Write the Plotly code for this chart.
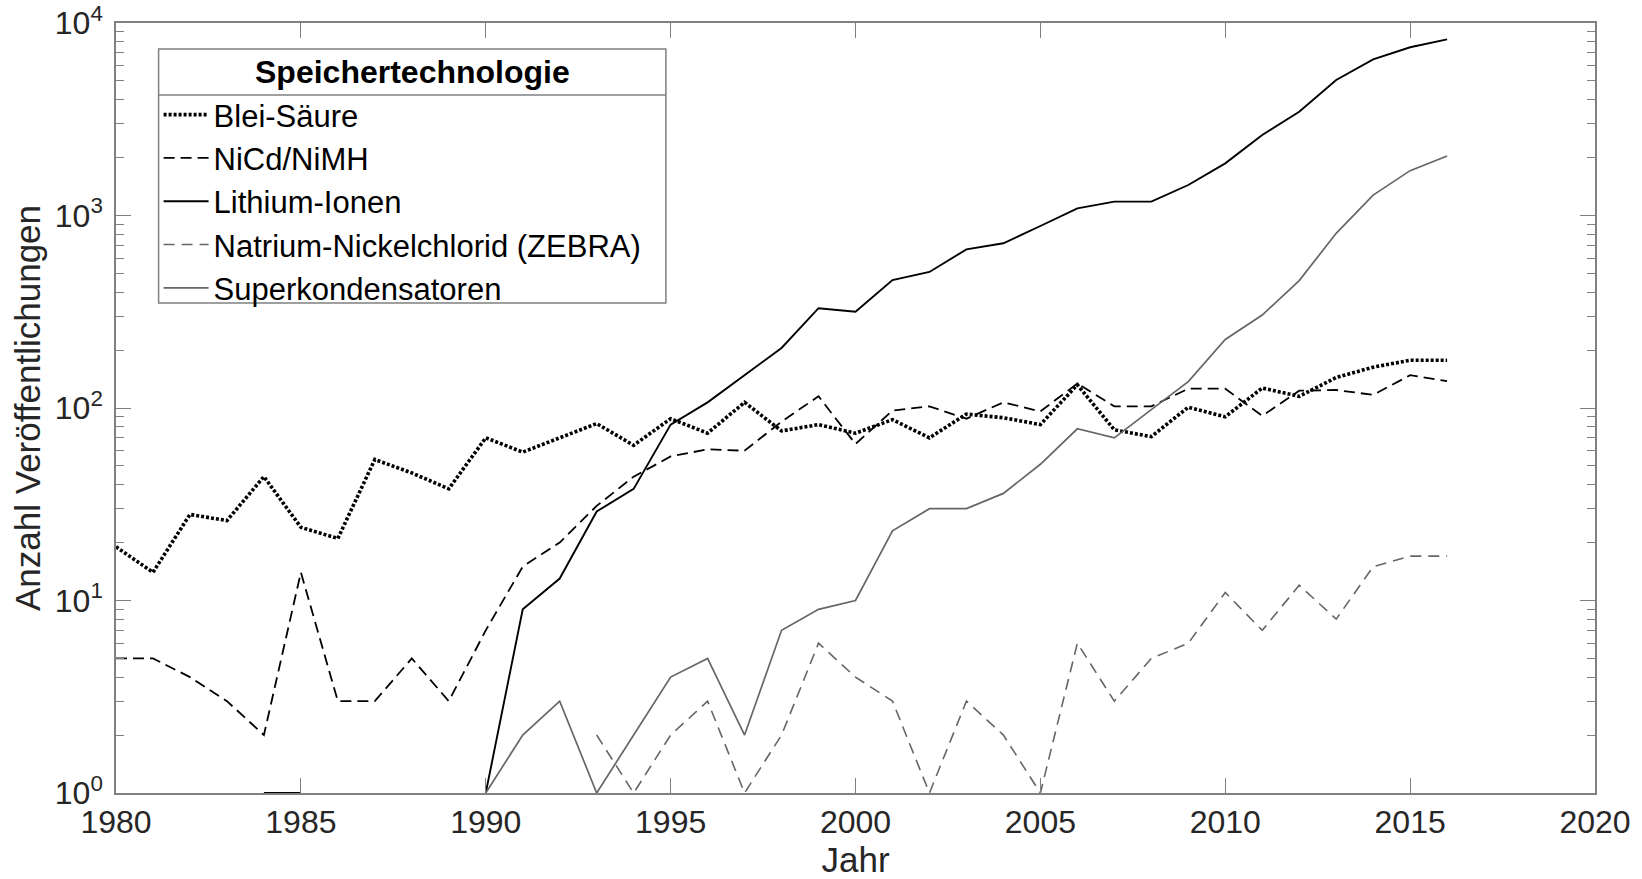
import plotly.graph_objects as go

years = list(range(1980, 2017))

blei_saeure = [19, 14, 28, 26, 44, 24, 21, 54, 46, 38,
               70, 59, 70, 83, 64, 88, 74, 107, 76, 82,
               74, 87, 70, 93, 89, 82, 132, 77, 71, 101,
               90, 127, 115, 144, 163, 177, 177]
nicd_nimh = [5, 5, 4, 3, 2, 14, 3, 3, 5, 3,
             7, 15, 20, 31, 44, 56, 61, 60, 85, 115,
             65, 97, 102, 88, 107, 96, 134, 102, 102, 126,
             126, 91, 123, 124, 117, 148, 138]
lithium_ionen = [0, 0, 0, 0, 1, 1, 0, 0, 0, 0,
                 1, 9, 13, 29, 38, 82, 107, 148, 205, 330,
                 316, 462, 509, 667, 717, 882, 1090, 1180, 1180, 1440,
                 1866, 2619, 3461, 5058, 6475, 7480, 8225]
natrium_nickelchlorid = [0, 0, 0, 0, 0, 0, 0, 0, 0, 0,
                         0, 0, 0, 2, 1, 2, 3, 1, 2, 6,
                         4, 3, 1, 3, 2, 1, 6, 3, 5, 6,
                         11, 7, 12, 8, 15, 17, 17]
superkondensatoren = [0, 0, 0, 0, 0, 0, 0, 0, 0, 0,
                      1, 2, 3, 1, 2, 4, 5, 2, 7, 9,
                      10, 23, 30, 30, 36, 51, 78, 70, 98, 137,
                      227, 304, 459, 808, 1277, 1710, 2038]

x_ticks = [1980, 1985, 1990, 1995, 2000, 2005, 2010, 2015, 2020]
y_ticks = [1, 10, 100, 1000, 10000]
y_tick_labels = ["10<sup>0</sup>", "10<sup>1</sup>", "10<sup>2</sup>",
                 "10<sup>3</sup>", "10<sup>4</sup>"]

FONT = "Liberation Sans, Arial, sans-serif"
AXIS_GREY = "#808080"
TEXT = "#262626"
GREY_LINE = "#666666"


def positive(values):
    # zero counts cannot be shown on a log axis
    return [v if v > 0 else None for v in values]


series = [
    ("Blei-Säure", blei_saeure, dict(color="black", width=3.6, dash="3px,2px")),
    ("NiCd/NiMH", nicd_nimh, dict(color="black", width=1.8, dash="11px,6px")),
    ("Lithium-Ionen", lithium_ionen, dict(color="black", width=1.9)),
    ("Natrium-Nickelchlorid (ZEBRA)", natrium_nickelchlorid,
     dict(color=GREY_LINE, width=1.6, dash="11px,7px")),
    ("Superkondensatoren", superkondensatoren, dict(color=GREY_LINE, width=1.7)),
]

fig = go.Figure()
for name, values, line in series:
    fig.add_trace(go.Scatter(x=years, y=positive(values), name=name, mode="lines",
                             line=line, connectgaps=False))

axis_common = dict(
    showline=True, linecolor=AXIS_GREY, linewidth=1.5, mirror="ticks",
    ticks="inside", ticklen=15, tickwidth=1.3, tickcolor=AXIS_GREY,
    showgrid=False, zeroline=False,
)

fig.update_xaxes(range=[1980, 2020], tickmode="array", tickvals=x_ticks,
                 tickfont=dict(family=FONT, size=32, color=TEXT),
                 title=dict(text="Jahr", font=dict(family=FONT, size=35, color=TEXT), standoff=12),
                 **axis_common)
fig.update_yaxes(type="log", range=[0, 4], tickmode="array", tickvals=y_ticks,
                 ticktext=y_tick_labels, ticklabelstandoff=5,
                 tickfont=dict(family=FONT, size=32, color=TEXT),
                 minor=dict(ticks="inside", ticklen=8, tickwidth=1.2, tickcolor=AXIS_GREY,
                            dtick="D1", showgrid=False),
                 title=dict(text="Anzahl Veröffentlichungen",
                            font=dict(family=FONT, size=35, color=TEXT), standoff=4),
                 **axis_common)

# legend frame (paper coordinates of the plot area)
box_x0, box_x1 = 0.0288, 0.3718
box_y0, box_y1 = 0.6364, 0.9662
title_line_y = 0.9065

fig.update_layout(
    width=1642, height=879,
    template="none",
    paper_bgcolor="white", plot_bgcolor="white",
    margin=dict(l=116, r=47, t=23, b=86),
    font=dict(family=FONT, color="black"),
    legend=dict(
        x=box_x0, y=0.7682, xanchor="left", yanchor="middle",
        bgcolor="rgba(0,0,0,0)", borderwidth=0,
        font=dict(family=FONT, size=31, color="black"),
        itemwidth=45,
        tracegroupgap=0,
    ),
)

fig.add_shape(type="rect", xref="paper", yref="paper", layer="above",
              x0=box_x0, x1=box_x1, y0=box_y0, y1=box_y1,
              fillcolor="white", line=dict(color=AXIS_GREY, width=1.5))
fig.add_shape(type="line", xref="paper", yref="paper", layer="above",
              x0=box_x0, x1=box_x1, y0=title_line_y, y1=title_line_y,
              line=dict(color=AXIS_GREY, width=1.5))
fig.add_annotation(text="<b>Speichertechnologie</b>", xref="paper", yref="paper",
                   x=(box_x0 + box_x1) / 2, y=(box_y1 + title_line_y) / 2,
                   xanchor="center", yanchor="middle", showarrow=False,
                   font=dict(family=FONT, size=32, color="black"))

fig.write_html("out.html", config={"displayModeBar": False},
               post_script="document.body.style.margin = '0';")
